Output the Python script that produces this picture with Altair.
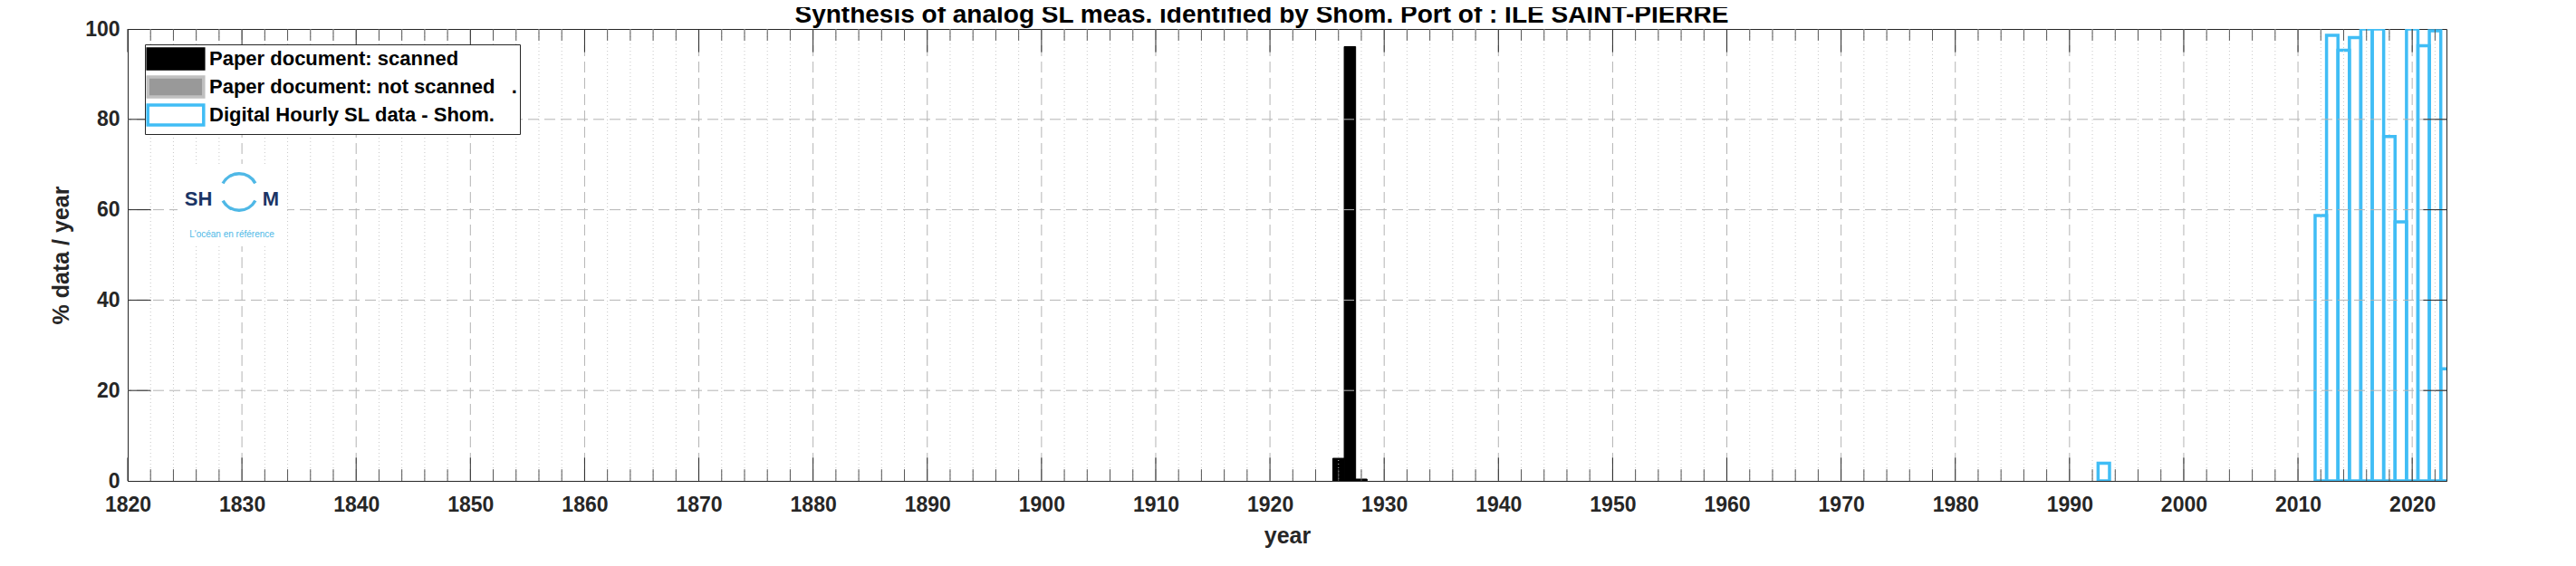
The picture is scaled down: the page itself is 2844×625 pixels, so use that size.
import altair as alt
import pandas as pd

# ---------------- data ----------------
scanned_years = [1926, 1927, 1928]
scanned_pct = [5.0, 96.1, 0.4]

digital_years = [1993, 2012, 2013, 2014, 2015, 2016, 2017, 2018, 2019, 2020, 2021, 2022, 2023]
digital_pct = [3.9, 58.7, 98.6, 95.3, 98.1, 100.0, 100.0, 76.2, 57.3, 100.0, 96.3, 99.6, 24.8]

series_names = [
    "Paper document: scanned",
    "Paper document: not scanned\u00a0\u00a0\u00a0.",
    "Digital Hourly SL data - Shom.",
]
series_fill = ["#000000", "#999999", "#ffffff"]
series_stroke = ["#000000", "#c0c0c0", "#40bdf5"]

x_major = list(range(1820, 2021, 10))
x_minor = [v for v in range(1822, 2023, 2) if v % 10 != 0]
y_major = [0, 20, 40, 60, 80, 100]
y_inner = [20, 40, 60, 80]

title_text = "Synthesis of analog SL meas. identified by Shom. Port of : ILE SAINT-PIERRE"
logo_left = "SH"
logo_right = "M"
logo_tag = "L'océan en référence"

# ---------------- style ----------------
W, H = 2560, 499
FONT = "Liberation Sans"
AX = "#262626"
TICK = 25.6
MINOR_TICK = 12.8

scanned_df = pd.DataFrame({"year": scanned_years, "pct": scanned_pct, "series": series_names[0]})
digital_df = pd.DataFrame({"year": digital_years, "pct": digital_pct, "series": series_names[2]})
xmaj_df = pd.DataFrame({"v": x_major})
xmaj_grid_df = pd.DataFrame({"v": x_major[1:]})
xmin_df = pd.DataFrame({"v": x_minor})
yin_df = pd.DataFrame({"v": y_inner})
one = pd.DataFrame({"a": [0]})

xs = alt.Scale(domain=[1820, 2023], nice=False, zero=False)
ys = alt.Scale(domain=[0, 100], nice=False, zero=True)

x_axis = alt.Axis(
    values=x_major, format="d", title="year", ticks=False, grid=False,
    domain=True, domainColor=AX, labelFlush=False, labelOverlap=False,
    labelFont=FONT, labelFontSize=23, labelFontWeight="bold", labelColor=AX, labelPadding=15,
    titleFont=FONT, titleFontSize=25, titleFontWeight="bold", titleColor=AX, titlePadding=10,
)
y_axis = alt.Axis(
    values=y_major, title="% data / year", ticks=False, grid=False,
    domain=True, domainColor=AX, labelOverlap=False,
    labelFont=FONT, labelFontSize=23, labelFontWeight="bold", labelColor=AX, labelPadding=9,
    titleFont=FONT, titleFontSize=25, titleFontWeight="bold", titleColor=AX, titlePadding=13,
)

legend = alt.Legend(
    orient="none", legendX=19, legendY=17, title=None,
    symbolType="M-2.8,-1H2.8V1H-2.8Z", symbolSize=484, symbolStrokeWidth=3.5,
    symbolOffset=18, labelOffset=24,
    labelFont=FONT, labelFontSize=22, labelFontWeight="bold", labelColor="#000000", labelLimit=0,
    fillColor="#ffffff", strokeColor=AX, padding=3, rowPadding=-8.5,
)

fill_enc = alt.Fill("series:N", scale=alt.Scale(domain=series_names, range=series_fill), legend=legend)
stroke_enc = alt.Stroke("series:N", scale=alt.Scale(domain=series_names, range=series_stroke), legend=legend)


def xv():
    return alt.X("v:Q", scale=xs, axis=x_axis)


def yv():
    return alt.Y("v:Q", scale=ys, axis=y_axis)


# grids
minor_grid = alt.Chart(xmin_df).mark_rule(color="#c8c8c8", strokeDash=[1, 3], strokeWidth=1).encode(x=xv())
major_grid = alt.Chart(xmaj_grid_df).mark_rule(color="#b4b4b4", strokeDash=[12, 6], strokeWidth=1).encode(x=xv())
y_grid = alt.Chart(yin_df).mark_rule(color="#b4b4b4", strokeDash=[12, 6], strokeWidth=1).encode(y=yv())

# logo (white patch + text + ring)
logo_bg = alt.Chart(one).mark_rect(color="#ffffff").encode(
    x=alt.value(55), x2=alt.value(176), y=alt.value(149), y2=alt.value(240))
logo_sh = alt.Chart(one).mark_text(font=FONT, fontSize=22, fontWeight="bold", color="#1b3566",
                                   align="center", baseline="alphabetic").encode(
    x=alt.value(78), y=alt.value(195), text=alt.value(logo_left))
logo_m = alt.Chart(one).mark_text(font=FONT, fontSize=22, fontWeight="bold", color="#1b3566",
                                  align="center", baseline="alphabetic").encode(
    x=alt.value(158), y=alt.value(195), text=alt.value(logo_right))
logo_arc_top = alt.Chart(one).mark_arc(color="#4fb8e6", radius=22, radius2=18.5,
                                       theta=5.2, theta2=7.36).encode(
    x=alt.value(123), y=alt.value(180))
logo_arc_bot = alt.Chart(one).mark_arc(color="#4fb8e6", radius=22, radius2=18.5,
                                       theta=2.06, theta2=4.22).encode(
    x=alt.value(123), y=alt.value(180))
logo_tagline = alt.Chart(one).mark_text(font=FONT, fontSize=10, color="#4fb8e6",
                                        align="center", baseline="middle").encode(
    x=alt.value(115), y=alt.value(227), text=alt.value(logo_tag))

# bars
scanned_bars = alt.Chart(scanned_df).transform_calculate(
    x0="datum.year - 0.5", x1="datum.year + 0.5"
).mark_rect(strokeWidth=1, clip=True).encode(
    x=alt.X("x0:Q", scale=xs, axis=x_axis),
    x2="x1:Q",
    y=alt.Y("pct:Q", scale=ys, axis=y_axis),
    y2=alt.datum(0),
    fill=fill_enc,
    stroke=stroke_enc,
)
digital_bars = alt.Chart(digital_df).transform_calculate(
    x0="datum.year - 0.5", x1="datum.year + 0.5"
).mark_rect(strokeWidth=3.5, fillOpacity=0, clip=True).encode(
    x=alt.X("x0:Q", scale=xs, axis=x_axis),
    x2="x1:Q",
    y=alt.Y("pct:Q", scale=ys, axis=y_axis),
    y2=alt.datum(0),
    fill=fill_enc,
    stroke=stroke_enc,
)

# inward ticks
xt_bot_major = alt.Chart(xmaj_df).mark_rule(color=AX).encode(
    x=xv(), y=alt.value(H), y2=alt.value(H - TICK))
xt_top_major = alt.Chart(xmaj_df).mark_rule(color=AX).encode(
    x=xv(), y=alt.value(0), y2=alt.value(TICK))
xt_bot_minor = alt.Chart(xmin_df).mark_rule(color="#555555").encode(
    x=xv(), y=alt.value(H), y2=alt.value(H - MINOR_TICK))
xt_top_minor = alt.Chart(xmin_df).mark_rule(color="#555555").encode(
    x=xv(), y=alt.value(0), y2=alt.value(MINOR_TICK))
yt_left = alt.Chart(yin_df).mark_rule(color=AX).encode(
    y=yv(), x=alt.value(0), x2=alt.value(TICK))
yt_right = alt.Chart(yin_df).mark_rule(color=AX).encode(
    y=yv(), x=alt.value(W), x2=alt.value(W - TICK))

chart = alt.layer(
    scanned_bars, digital_bars,
    minor_grid, major_grid, y_grid,
    logo_bg, logo_arc_top, logo_arc_bot, logo_sh, logo_m, logo_tagline,
    xt_bot_major, xt_top_major, xt_bot_minor, xt_top_minor, yt_left, yt_right,
).properties(
    width=W, height=H,
    title=alt.TitleParams(text=title_text, font=FONT, fontSize=28, fontWeight="bold",
                          color="#000000", anchor="middle", offset=-10, dx=-28),
    autosize=alt.AutoSizeParams(type="none"),
    padding={"left": 133, "top": 24, "right": 130, "bottom": 84},
    background="#ffffff",
).configure_view(stroke=AX, strokeWidth=1)

chart.save("out.html", embed_options={"renderer": "svg", "actions": False})
